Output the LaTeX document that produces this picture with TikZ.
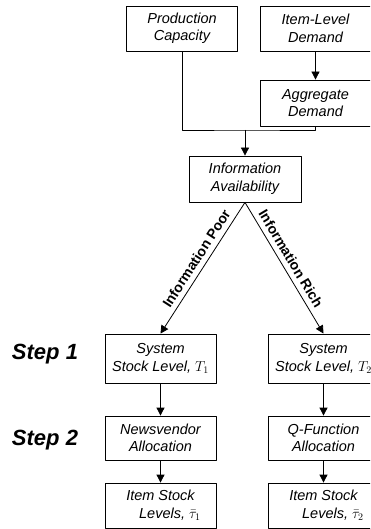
\documentclass[tikz,border=0pt]{standalone}
\usepackage{fontspec}
\setmainfont{Liberation Sans}
\usepackage{tikz}
\usetikzlibrary{arrows.meta}

\begin{document}
\begin{tikzpicture}[x=1pt, y=-1pt, line join=round,
    box/.style={draw, line width=0.8pt, minimum width=111pt, minimum height=45pt,
        align=center, inner sep=2pt, font=\fontsize{14.5}{17.5}\selectfont\itshape},
    flow/.style={line width=0.8pt, -{Triangle[length=8pt, width=8pt]}},
    branchlabel/.style={sloped, above, inner sep=5pt, font=\fontsize{14}{16}\selectfont\bfseries},
    stepname/.style={font=\fontsize{22}{24}\selectfont\bfseries\itshape}]

    % fix the page to the reference frame
    \useasboundingbox (0,0) rectangle (370,529);
    \clip (0,0) rectangle (370,529);

    % =======================================================
    % TOP PART
    % =======================================================
    % 1. Input boxes
    \node[box] (prod) at (182,28.5) {Production\\Capacity};
    \node[box] (itemdem) at (315.5,28.5) {Item-Level\\Demand};
    \node[box, minimum height=46pt] (aggdem) at (315.5,103) {Aggregate\\Demand};
    \node[box, minimum width=112pt, minimum height=46pt] (info) at (245,179) {Information\\Availability};

    % 2. Connectors into the information box
    \coordinate (merge) at (245,130);
    \draw[flow] (itemdem) -- (aggdem);
    \draw[line width=0.8pt] (prod.south) |- (merge) -| (aggdem.south);
    \draw[flow] (merge) -- (info);

    % =======================================================
    % BOTTOM PART
    % =======================================================
    % 3. Step labels
    \node[stepname] (stepone) at (45,354) {Step 1};
    \node[stepname] (steptwo) at (45,440) {Step 2};

    % 4. Left column (information poor)
    \node[box, minimum height=49pt] (sysone) at (160.5,358.5) {System\\Stock Level, $T_1$};
    \node[box, minimum height=44pt] (allocone) at (160.5,438) {Newsvendor\\Allocation};
    \node[box] (levone) at (160.5,505.5) {Item Stock\\\hspace*{1.3em}Levels, $\bar{\tau}_1$};

    % 5. Right column (information rich)
    \node[box, minimum height=49pt] (systwo) at (323.5,358.5) {System\\Stock Level, $T_2$};
    \node[box, minimum height=44pt] (alloctwo) at (323.5,438) {Q-Function\\Allocation};
    \node[box] (levtwo) at (323.5,505.5) {Item Stock\\\hspace*{1.3em}Levels, $\bar{\tau}_2$};

    % 6. Branches
    \draw[flow] (info.south) -- (sysone.north) node[branchlabel, pos=0.47] {Information Poor};
    \draw[flow] (info.south) -- (systwo.north) node[branchlabel, pos=0.47] {Information Rich};

    % 7. Column arrows
    \draw[flow] (sysone) -- (allocone);
    \draw[flow] (allocone) -- (levone);
    \draw[flow] (systwo) -- (alloctwo);
    \draw[flow] (alloctwo) -- (levtwo);

\end{tikzpicture}
\end{document}
